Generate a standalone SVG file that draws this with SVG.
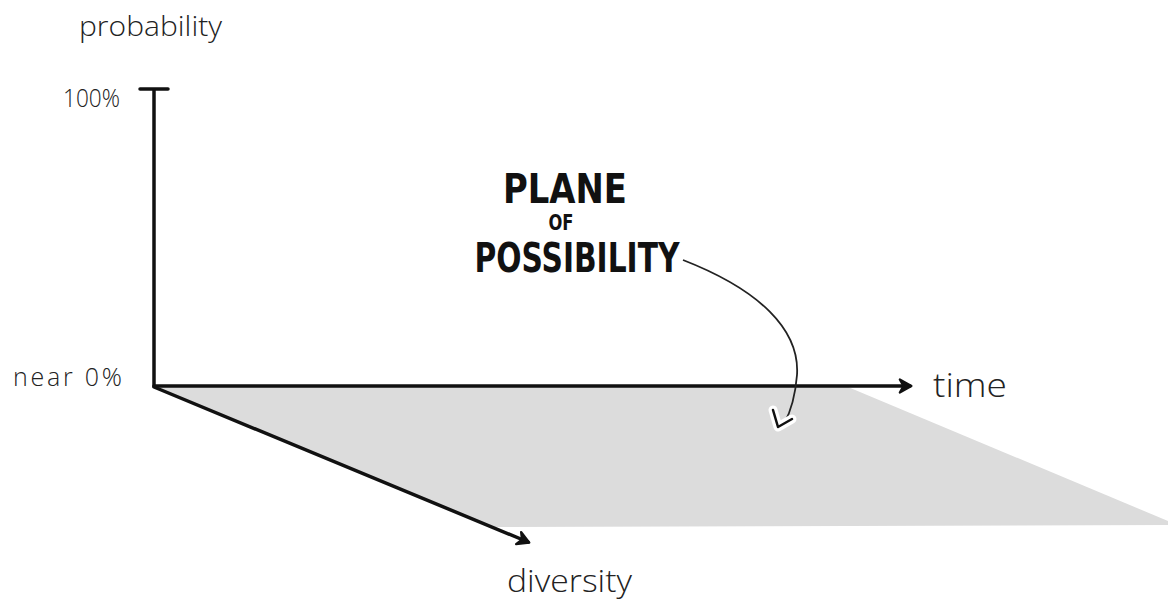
<svg xmlns="http://www.w3.org/2000/svg" width="1168" height="607" viewBox="0 0 1168 607">
<style>
.hand{font-family:"Open Sans","DejaVu Sans",sans-serif;font-weight:300;fill:#222}
.caps{font-family:"Liberation Sans Narrow","DejaVu Sans Condensed","Liberation Sans",sans-serif;font-weight:bold;fill:#111}
.axis{stroke:#111;stroke-width:3.5;fill:none;stroke-linecap:round;stroke-linejoin:round}
</style>
<defs>
<marker id="ah" viewBox="0 0 12 12" refX="9" refY="6" markerWidth="5" markerHeight="5" orient="auto" markerUnits="strokeWidth">
<path d="M2,1.5 L10,6 L2,10.5 L4.5,6 Z" fill="#111" stroke="#111" stroke-width="1.5" stroke-linejoin="round"/>
</marker>
</defs>
<rect width="1168" height="607" fill="#fff"/>
<g id="plane">
<polygon points="154,387 848,387 1168,521 1168,525 492,527" fill="#dcdcdc"/>
</g>
<g id="connectors">
<line class="axis" x1="154" y1="90" x2="154" y2="386" stroke-width="3"/>
<line class="axis" x1="140" y1="89" x2="168" y2="89" stroke-width="2.5"/>
<line class="axis" x1="154" y1="386" x2="910" y2="386" marker-end="url(#ah)" stroke-width="3"/>
<line class="axis" x1="154" y1="387" x2="528" y2="542" marker-end="url(#ah)"/>
<path d="M683,260 C760,290 800,330 797,375 C795,400 790,413 784,424" fill="none" stroke="#222" stroke-width="1.8"/>
<path d="M773,410 L778,427 L792,419" fill="none" stroke="#fff" stroke-width="9" stroke-linecap="round" stroke-linejoin="round"/>
<path d="M773,410 L778,427 L792,419" fill="none" stroke="#111" stroke-width="2.5" stroke-linecap="round" stroke-linejoin="round"/>
</g>
<g id="label-probability"><text class="hand" x="79" y="36" font-size="28" textLength="143" lengthAdjust="spacingAndGlyphs">probability</text></g>
<g id="label-100"><text class="hand" x="63" y="107" font-size="25" textLength="57" lengthAdjust="spacingAndGlyphs">100%</text></g>
<g id="label-near0"><text class="hand" x="13" y="386" font-size="25" textLength="109" lengthAdjust="spacing">near 0%</text></g>
<g id="label-time"><text class="hand" x="933" y="397" font-size="33" textLength="74" lengthAdjust="spacingAndGlyphs">time</text></g>
<g id="label-diversity"><text class="hand" x="507" y="592" font-size="31" textLength="125" lengthAdjust="spacingAndGlyphs">diversity</text></g>
<g id="label-plane">
<text class="caps" x="565" y="203" font-size="40" text-anchor="middle" textLength="124" lengthAdjust="spacingAndGlyphs">PLANE</text>
<text class="caps" x="561" y="230" font-size="21" text-anchor="middle" textLength="25" lengthAdjust="spacingAndGlyphs">OF</text>
<text class="caps" x="577" y="272" font-size="40" text-anchor="middle" textLength="205" lengthAdjust="spacingAndGlyphs">POSSIBILITY</text>
</g>
</svg>
